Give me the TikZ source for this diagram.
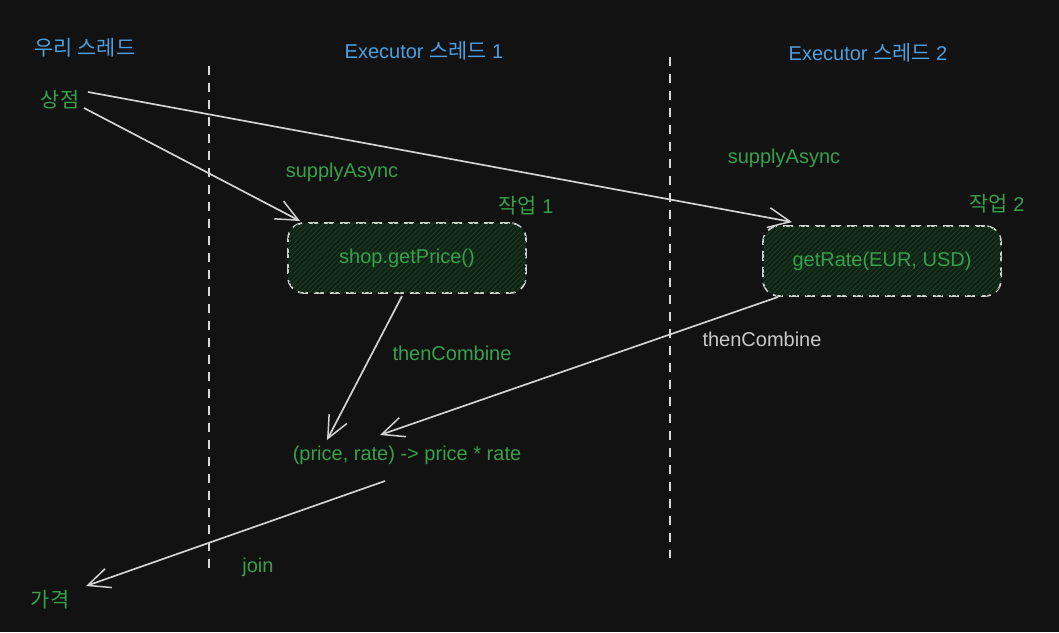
\documentclass[tikz,border=0pt]{standalone}
\usepackage{fontspec}
\setmainfont{Liberation Sans}
\newfontfamily\kr{Noto Sans CJK KR}[Scale=1.04]
\usetikzlibrary{arrows.meta,patterns.meta,calc}
\definecolor{bg}{HTML}{121212}
\definecolor{txtgreen}{HTML}{36A04B}
\definecolor{txtblue}{HTML}{4C9FE0}
\definecolor{linegray}{HTML}{D2D2D2}
\definecolor{labelgray}{HTML}{C8C8C8}
\definecolor{boxfill}{HTML}{112015}
\definecolor{hatch}{HTML}{173F20}
\tikzdeclarepattern{
  name=myhatch, type=uncolored,
  bounding box={(-0.5pt,-0.5pt) and (5.5pt,5.5pt)},
  tile size={(5pt,5pt)},
  code={\draw[line width=0.8pt] (-0.5pt,-0.5pt) -- (5.5pt,5.5pt);}
}
\begin{document}
\begin{tikzpicture}[x=1pt,y=-1pt,
  lbl/.style={font=\fontsize{20}{24}\selectfont, inner sep=0pt, anchor=center},
  green/.style={lbl, text=txtgreen},
  blue/.style={lbl, text=txtblue},
  gray/.style={lbl, text=labelgray},
  lane/.style={draw=linegray!85, line width=1.6pt, dash pattern=on 9pt off 8pt},
  taskbox/.style={lbl, text=txtgreen, draw=linegray, line width=1.7pt,
    dash pattern=on 10pt off 6pt, rounded corners=16pt,
    minimum width=238pt, minimum height=70pt, fill=boxfill,
    postaction={pattern={myhatch}, pattern color=hatch}},
  conn/.style={draw=linegray, line width=1.7pt,
    -{Straight Barb[length=22pt, width=20pt, line width=1.5pt]}}
]
\fill[bg] (0,0) rectangle (1059,632);
\useasboundingbox (0,0) rectangle (1059,632);

% lane headers
\node[blue] (h0) at (85,48) {{\kr 우리 스레드}};
\node[blue] (h1) at (424,51) {Executor {\kr 스레드} 1};
\node[blue] (h2) at (868,53) {Executor {\kr 스레드} 2};

% lane separators
\coordinate (l1a) at (209,66);
\coordinate (l1b) at (209,570);
\coordinate (l2a) at (670,57);
\coordinate (l2b) at (670,558);
\draw[lane] (l1a) -- (l1b);
\draw[lane] (l2a) -- (l2b);

% labels
\node[green] (store) at (60,100) {{\kr 상점}};
\node[green] (sa1) at (342,172) {supplyAsync};
\node[green] (sa2) at (784,158) {supplyAsync};
\node[green] (t1) at (526,206) {{\kr 작업} 1};
\node[green] (t2) at (997,204) {{\kr 작업} 2};

% task boxes
\node[taskbox] (box1) at (407,258) {shop.getPrice()};
\node[taskbox] (box2) at (882,261) {getRate(EUR, USD)};

\node[green] (tc1) at (452,353) {thenCombine};
\node[gray] (tc2) at (762,339) {thenCombine};
\node[green] (res) at (407,455) {(price, rate) -> price * rate};
\node[green] (join) at (258,567) {join};
\node[green] (price) at (50,600) {{\kr 가격}};

% connectors
\draw[conn] ($(store.center)+(28,-8)$) -- ($(box2.center)+(-90,-39)$);
\draw[conn] ($(store.center)+(24,8)$) -- ($(box1.center)+(-107,-37)$);
\draw[conn] ($(box1.center)+(-5,38)$) -- ($(res.center)+(-80,-15)$);
\draw[conn] ($(box2.center)+(-104,36)$) -- ($(res.center)+(-27,-20)$);
\draw[conn] ($(res.center)+(-22,26)$) -- ($(price.center)+(36,-14)$);
\end{tikzpicture}
\end{document}
